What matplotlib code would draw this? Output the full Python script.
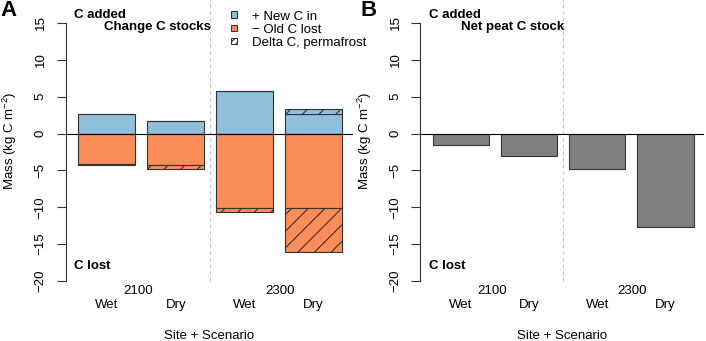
import numpy as np
import matplotlib.pyplot as plt
from matplotlib.patches import Patch

plt.rcParams['font.family'] = ['Liberation Sans', 'DejaVu Sans']
plt.rcParams['mathtext.default'] = 'regular'
plt.rcParams['hatch.linewidth'] = 0.8

# values (kg C m-2)
scenarios = ['Wet', 'Dry', 'Wet', 'Dry']
years = ['2100', '2300']
new_c_in = [2.6, 1.7, 5.8, 2.7]
old_c_lost = [-4.1, -4.2, -10.1, -10.1]
perm_pos = [0.0, 0.05, 0.0, 0.65]
perm_neg = [-0.12, -0.55, -0.5, -5.95]
net_peat = [-1.6, -3.0, -4.85, -12.7]

blue = '#91bfdb'
orange = '#fc8d59'
grey = '#7f7f7f'
edge = '#333333'

xpos = 0.7 + 1.2 * np.arange(len(scenarios))


def setup(ax, title):
    ax.set_xlim(-0.016, 4.984)
    ax.set_ylim(-21.4, 16.4)
    for s in ['top', 'right', 'bottom']:
        ax.spines[s].set_visible(False)
    ax.spines['left'].set_bounds(-20, 15)
    ax.spines['left'].set_color(edge)
    ax.set_yticks(range(-20, 16, 5))
    ax.tick_params(axis='y', length=6.5, width=0.8, pad=7, labelsize=9.5,
                   labelrotation=90, color=edge)
    for lab in ax.get_yticklabels():
        lab.set_va('center')
    ax.set_xticks([])
    ax.axhline(0, color='black', lw=0.8, zorder=3)
    ax.plot([2.5, 2.5], [-20, 18.2], ls=(0, (3, 3)), color='#bcc4cc', lw=0.8,
            clip_on=False)
    ax.set_ylabel('Mass (kg C m$^{-2}$)', fontsize=9.5)
    ax.yaxis.set_label_coords(-0.162, 0.54)
    ax.text(0.13, 16.05, 'C added', fontsize=9.5, weight='bold', va='center')
    ax.text(0.13, -17.9, 'C lost', fontsize=9.5, weight='bold', va='center')
    ax.text(2.52, 14.4, title, fontsize=9.5, weight='bold', va='center', ha='right')
    for x, s in zip(xpos, scenarios):
        ax.text(x, -23.3, s, fontsize=9.5, ha='center', va='center', clip_on=False)
    for x, yr in zip([1.25, 3.72], years):
        ax.text(x, -21.36, yr, fontsize=9.5, ha='center', va='center', clip_on=False)
    ax.text(2.48, -27.4, 'Site + Scenario', fontsize=9.5, ha='center', va='center',
            clip_on=False)


fig = plt.figure(figsize=(7.06, 3.41), dpi=100)
axA = fig.add_axes([65.6 / 706, 1 - 291.3 / 341, 287.4 / 706, 278.6 / 341])
axB = fig.add_axes([420.4 / 706, 1 - 291.3 / 341, 283.6 / 706, 278.6 / 341])

# panel A: stacked change in C stocks
axA.bar(xpos, new_c_in, width=1, color=blue, edgecolor=edge, lw=0.8)
axA.bar(xpos, old_c_lost, width=1, color=orange, edgecolor=edge, lw=0.8)
axA.bar(xpos, perm_pos, width=1, bottom=new_c_in, color=blue, edgecolor=edge,
        lw=0.8, hatch='//')
axA.bar(xpos, perm_neg, width=1, bottom=old_c_lost, color=orange, edgecolor=edge,
        lw=0.8, hatch='//')
setup(axA, 'Change C stocks')

handles = [Patch(facecolor=blue, edgecolor=edge, lw=0.8),
           Patch(facecolor=orange, edgecolor=edge, lw=0.8),
           Patch(facecolor='white', edgecolor=edge, lw=0.8, hatch='/////')]
fig.legend(handles, ['+ New C in', '\u2212 Old C lost', 'Delta C, permafrost'],
           loc='upper left', bbox_to_anchor=(230.7 / 706, 1 - 10.5 / 341),
           frameon=False, fontsize=9.5, handlelength=0.5, handleheight=0.4,
           handletextpad=1.1, labelspacing=0.08, borderpad=0, borderaxespad=0)

# panel B: net peat C stock
axB.bar(xpos, net_peat, width=1, color=grey, edgecolor=edge, lw=0.8)
setup(axB, 'Net peat C stock')

fig.text(0.0, 1.0, 'A', fontsize=16, weight='bold', va='top', ha='left')
fig.text(360 / 706, 1.0, 'B', fontsize=16, weight='bold', va='top', ha='left')

fig.savefig('out.png', dpi=100)
